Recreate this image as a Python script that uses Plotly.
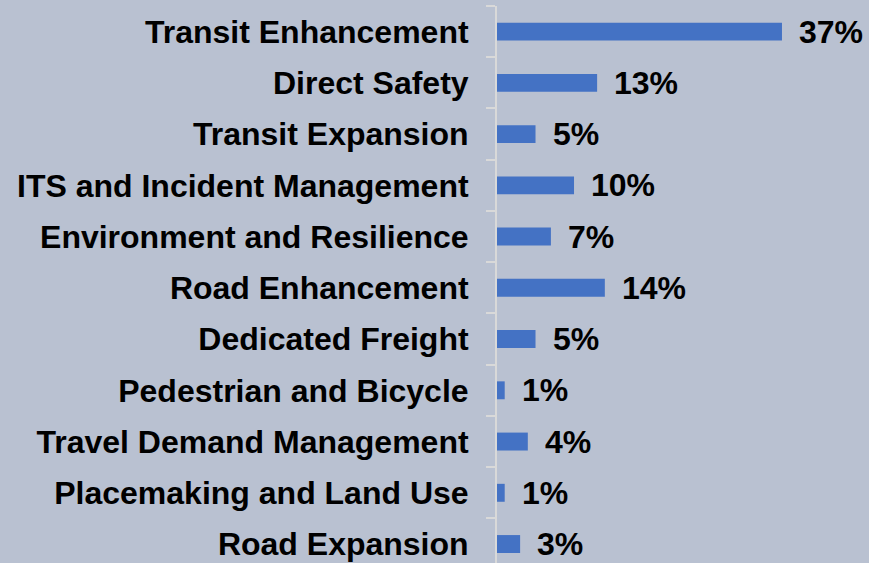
import plotly.graph_objects as go

categories = [
    "Transit Enhancement",
    "Direct Safety",
    "Transit Expansion",
    "ITS and Incident Management",
    "Environment and Resilience",
    "Road Enhancement",
    "Dedicated Freight",
    "Pedestrian and Bicycle",
    "Travel Demand Management",
    "Placemaking and Land Use",
    "Road Expansion",
]
values = [37, 13, 5, 10, 7, 14, 5, 1, 4, 1, 3]
labels = [f"{v}%" for v in values]

FONT = dict(family="Arial, Liberation Sans, sans-serif", size=32, color="black", weight="bold")
BG = "#B9C1D1"

fig = go.Figure(go.Bar(
    x=values, y=categories, orientation="h",
    marker=dict(color="#4472C4", line=dict(width=0)),
    hoverinfo="skip",
))

for c, v, t in zip(categories, values, labels):
    fig.add_annotation(x=v, y=c, text=t, showarrow=False, xanchor="left",
                       yanchor="middle", xshift=15, font=FONT)

fig.update_layout(
    width=869, height=563,
    margin=dict(l=497, r=0, t=6, b=0),
    paper_bgcolor=BG, plot_bgcolor=BG,
    bargap=0.65,
    showlegend=False,
    xaxis=dict(range=[0, 48.3], visible=False, fixedrange=True),
    yaxis=dict(
        categoryorder="array", categoryarray=categories[::-1],
        range=[-0.37, 10.5],
        showline=True, linecolor="#D9D9D9", linewidth=2,
        ticks="outside", tickson="boundaries", ticklen=9, tickwidth=2, tickcolor="#D9D9D9",
        ticklabelstandoff=20,
        tickfont=FONT, showgrid=False, zeroline=False, fixedrange=True,
    ),
)

fig.write_html(
    "out.html",
    config={"displayModeBar": False},
    post_script="document.body.style.margin='0';document.body.style.background='" + BG + "';",
)
